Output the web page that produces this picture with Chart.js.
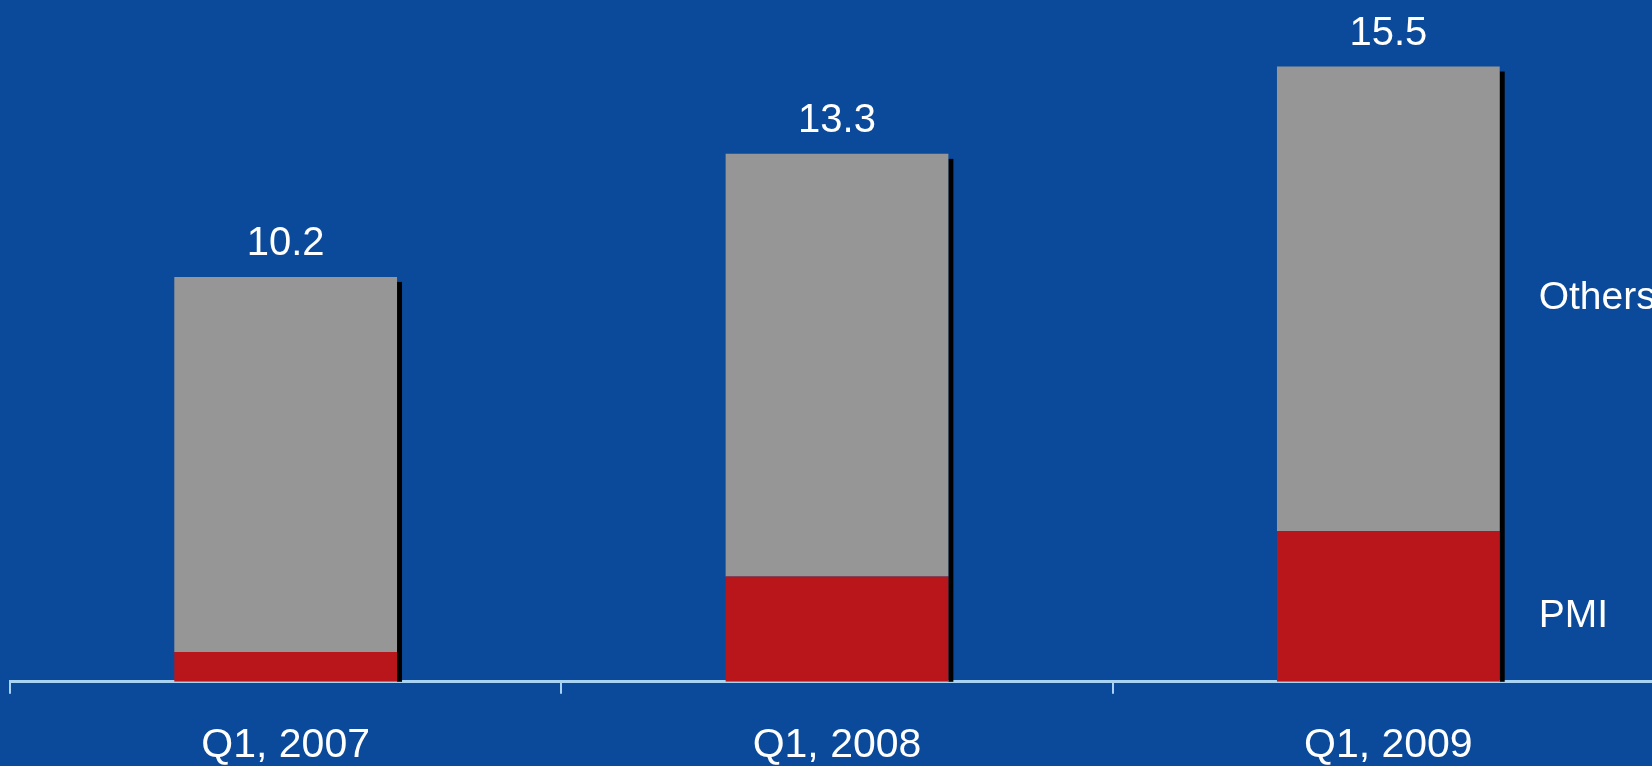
<!DOCTYPE html>
<html>
<head>
<meta charset="utf-8">
<script src="https://cdn.jsdelivr.net/npm/chart.js@4/dist/chart.umd.min.js"></script>
<style>
	html,
	body {
		margin: 0;
		padding: 0;
		background: #0b4a9a;
		overflow: hidden;
	}
	#wrapper-bc-pmi-share {
		width: 1680px;
		height: 797px;
	}
</style>
</head>
<body>
<div id="wrapper-bc-pmi-share">
	<canvas id="bc-pmi-share" width="1680" height="797"></canvas>
</div>
<script>
const lsQuarter = ["Q1, 2007", "Q1, 2008", "Q1, 2009"];
const pmiData = [0.75, 2.65, 3.8];
const othersData = [9.45, 10.65, 11.7];
const totalLabels = ["10.2", "13.3", "15.5"];
const seriesNames = ["PMI", "Others"];

const FONT = "'Liberation Sans', Arial, Helvetica, sans-serif";
const AXIS_COLOR = "#a9d3f2";

// drop shadow on the right of each bar + value / series labels
const barLabels = {
	id: "barLabels",
	beforeDatasetsDraw(chart) {
		let ctx = chart.ctx;
		let bottom = chart.getDatasetMeta(0).data;
		let top = chart.getDatasetMeta(1).data;
		ctx.save();
		ctx.fillStyle = "#000000";
		top.forEach((bar, idx) => {
			let right = bar.x + bar.width / 2;
			ctx.fillRect(right, bar.y + 5, 5, bottom[idx].base - bar.y - 5);
		});
		ctx.restore();
	},
	afterDatasetsDraw(chart) {
		let ctx = chart.ctx;
		let bottom = chart.getDatasetMeta(0).data;
		let top = chart.getDatasetMeta(1).data;
		ctx.save();
		ctx.fillStyle = "#ffffff";
		ctx.textAlign = "center";
		ctx.textBaseline = "alphabetic";
		ctx.font = "40px " + FONT;
		top.forEach((bar, idx) => {
			ctx.fillText(totalLabels[idx], bar.x, bar.y - 22);
		});

		// series names next to the last bar
		let last = top.length - 1;
		let x = top[last].x + top[last].width / 2 + 39;
		ctx.textAlign = "left";
		ctx.textBaseline = "middle";
		ctx.font = "39px " + FONT;
		let pmiBar = bottom[last];
		ctx.fillText(seriesNames[0], x, (pmiBar.y + pmiBar.base) / 2 + 10);
		let othersBar = top[last];
		ctx.fillText(seriesNames[1], x, (othersBar.y + othersBar.base) / 2 - 1);
		ctx.restore();
	},
};

let ctx = document.getElementById("bc-pmi-share").getContext("2d");

let barChart = new Chart(ctx, {
	type: "bar",
	data: {
		labels: lsQuarter,
		datasets: [
			{
				label: seriesNames[0],
				data: pmiData,
				backgroundColor: "#b9161b",
				borderWidth: 0,
			},
			{
				label: seriesNames[1],
				data: othersData,
				backgroundColor: "#969696",
				borderWidth: 0,
			},
		],
	},
	options: {
		responsive: false,
		animation: false,
		devicePixelRatio: 1,
		categoryPercentage: 1,
		barPercentage: 0.404,
		layout: {
			padding: { top: 7, left: 10, right: 16, bottom: 0 },
		},
		scales: {
			x: {
				stacked: true,
				z: 1,
				grid: {
					display: true,
					drawOnChartArea: false,
					drawTicks: true,
					tickLength: 12,
					color: AXIS_COLOR,
					lineWidth: 2,
				},
				border: {
					display: true,
					color: AXIS_COLOR,
					width: 3,
				},
				ticks: {
					color: "#ffffff",
					padding: 27,
					font: { family: FONT, size: 41 },
				},
			},
			y: {
				stacked: true,
				display: false,
				min: 0,
				max: 17,
			},
		},
		plugins: {
			legend: { display: false },
			tooltip: { enabled: false },
		},
	},
	plugins: [barLabels],
});
</script>
</body>
</html>
